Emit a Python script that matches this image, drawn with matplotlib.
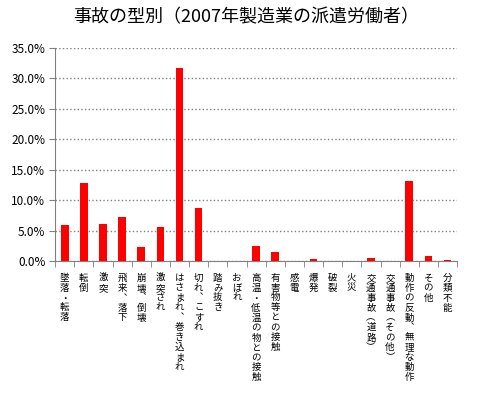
import matplotlib.pyplot as plt
import numpy as np

plt.rcParams['font.family'] = ['Noto Sans CJK JP', 'DejaVu Sans']

# 事故の型別（2007年製造業の派遣労働者）
categories = [
    '墜落・転落', '転倒', '激突', '飛来︑落下', '崩壊︑倒壊', '激突され',
    'はさまれ︑巻き込まれ', '切れ︑こすれ', '踏み抜き', 'おぼれ',
    '高温・低温の物との接触', '有害物等との接触', '感電', '爆発', '破裂',
    '火災', '交通事故︵道路︶', '交通事故︵その他︶', '動作の反動︑無理な動作',
    'その他', '分類不能'
]
share = [6.0, 12.8, 6.1, 7.3, 2.3, 5.6, 31.6, 8.7, 0.0, 0.0,
         2.5, 1.5, 0.0, 0.4, 0.0, 0.0, 0.55, 0.0, 13.2, 0.9, 0.2]
yticks = [0, 5, 10, 15, 20, 25, 30, 35]

fig = plt.figure(figsize=(4.92, 3.97), dpi=100)
ax = fig.add_axes([0.112, 0.342, 0.817, 0.538])

x = np.arange(len(categories))
ax.bar(x, share, width=0.4, color='#ff0000', zorder=3)

ax.set_xlim(-0.5, len(categories) - 0.5)
ax.set_ylim(0, 35)
ax.set_yticks(yticks)
ax.set_yticklabels([f'{v:.1f}%' for v in yticks], fontsize=8.5)
ax.yaxis.grid(True, linestyle=':', color='#808080', linewidth=1, zorder=0)

ax.set_xticks(x)
ax.set_xticklabels(['\n'.join(c) for c in categories], fontsize=6.8,
                   va='top', linespacing=1.12)
ax.set_xticks(np.arange(-0.5, len(categories)), minor=True)
ax.tick_params(axis='x', which='major', length=0, pad=9)
ax.tick_params(axis='x', which='minor', length=4, color='#808080')
ax.tick_params(axis='y', length=4, color='#808080', pad=3)

for side in ['top', 'right']:
    ax.spines[side].set_visible(False)
for side in ['left', 'bottom']:
    ax.spines[side].set_color('#808080')

fig.suptitle('事故の型別（2007年製造業の派遣労働者）', fontsize=13, y=0.98)

fig.savefig('out.png', dpi=100)
